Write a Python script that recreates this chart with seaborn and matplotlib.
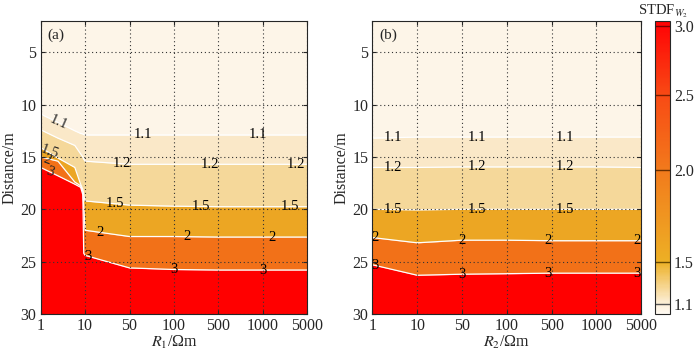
import numpy as np
import matplotlib as mpl
import matplotlib.pyplot as plt
import matplotlib.colors as mcolors
from matplotlib.cm import ScalarMappable
import seaborn as sns

# ---- data ----
r_labels = ["1", "10", "50", "100", "500", "1000", "5000"]
levels = [1.1, 1.2, 1.5, 2, 3]
level_text = ["1.1", "1.2", "1.5", "2", "3"]
band_colors = ["#FDF5E8", "#FAE8C8", "#F5D89A", "#ECA623", "#F27118", "#FF0000"]

# panel (a): depth (m) where STDF crosses each level, along R1 (category index)
xa = [0, 0.39, 0.77, 0.9, 0.95, 0.97, 1.0, 2, 3, 4, 5, 6]
da_11 = [10.9, 11.7, 12.5, 12.75, 12.8, 12.85, 12.9, 12.9, 12.9, 12.9, 12.9, 12.9]
da_12 = [12.4, 13.2, 13.9, 14.7, 15.0, 15.2, 15.4, 15.7, 15.7, 15.7, 15.7, 15.7]
da_15 = [14.1, 15.1, 16.0, 17.6, 18.1, 18.6, 19.2, 19.6, 19.7, 19.75, 19.75, 19.75]
da_2 = [15.0, 15.4, 17.4, 17.75, 18.3, 19.6, 22.0, 22.6, 22.6, 22.65, 22.65, 22.65]
da_3 = [16.0, 16.8, 17.6, 17.9, 18.6, 24.2, 24.4, 25.6, 25.75, 25.8, 25.8, 25.8]

# panel (b): same along R2
xb = [0, 1, 2, 3, 4, 5, 6]
db_11 = [13.2, 13.1, 13.1, 13.1, 13.1, 13.1, 13.1]
db_12 = [16.0, 16.0, 15.95, 15.95, 15.95, 15.95, 16.0]
db_15 = [20.0, 20.05, 20.0, 20.0, 20.0, 20.0, 20.0]
db_2 = [22.7, 23.2, 22.95, 22.95, 23.0, 23.0, 23.0]
db_3 = [25.3, 26.3, 26.2, 26.15, 26.1, 26.1, 26.1]

# where the contour labels sit (category index along each line)
lab_a = {"1.1": [2.3, 4.9], "1.2": [1.84, 3.8, 5.75], "1.5": [1.67, 3.6, 5.6],
         "2": [1.34, 3.3, 5.2], "3": [1.07, 3.0, 5.0]}
lab_b = {"1.1": [0.45, 2.34, 4.3], "1.2": [0.45, 2.34, 4.3], "1.5": [0.45, 2.34, 4.3],
         "2": [0.05, 2.0, 3.92, 5.9], "3": [0.05, 2.0, 3.92, 5.9]}

# colorbar: value -> fraction of bar height (bar is non-linear in the reference)
cb_vals = [1.0, 1.1, 1.5, 2.0, 2.5, 3.0, 3.03]
cb_frac = [0.0, 0.034, 0.177, 0.491, 0.747, 0.983, 1.0]

sns.set_style("ticks")
plt.rcParams['font.family'] = ['Liberation Serif', 'DejaVu Serif']
plt.rcParams['mathtext.fontset'] = 'stix'
plt.rcParams['axes.linewidth'] = 0.8

fig = plt.figure(figsize=(7, 3.54), dpi=100)
ax_a = fig.add_axes([0.058, 0.113, 0.381, 0.828])
ax_b = fig.add_axes([0.532, 0.113, 0.384, 0.828])
cax = fig.add_axes([0.936, 0.113, 0.021, 0.828])


def draw_panel(ax, x, bounds, labels, tag, xlabel):
    x = np.asarray(x)
    edges = [np.full(len(x), 2.0)] + [np.asarray(b) for b in bounds] + [np.full(len(x), 30.0)]
    for i, c in enumerate(band_colors):
        ax.fill_between(x, edges[i], edges[i + 1], color=c, lw=0, zorder=1)
    for b in bounds:
        sns.lineplot(x=x, y=b, ax=ax, color="white", lw=0.9, sort=False,
                     estimator=None, zorder=2)
    for t, b in zip(level_text, bounds):
        for xp in labels.get(t, []):
            ax.text(xp, np.interp(xp, x, b), t, ha="center", va="center",
                    fontsize=10.5, color="k", zorder=4)
    ax.set_xlim(0, 6)
    ax.set_ylim(30, 2)
    ax.set_xticks(range(len(r_labels)))
    ax.set_xticklabels(r_labels)
    ax.set_yticks([5, 10, 15, 20, 25, 30])
    ax.tick_params(direction="in", length=3, top=True, right=True, labelsize=11.5,
                   width=0.8, pad=3)
    ax.grid(True, ls=(0, (1, 2.5)), color="#333333", lw=0.8)
    ax.set_axisbelow(False)
    for sp in ax.spines.values():
        sp.set_zorder(5)
    ax.set_ylabel("Distance/m", fontsize=11.5, labelpad=2)
    ax.set_xlabel(xlabel, fontsize=11.5, labelpad=0)
    ax.text(0.025, 0.975, tag, transform=ax.transAxes, ha="left", va="top", fontsize=11,
            zorder=6)


draw_panel(ax_a, xa, [da_11, da_12, da_15, da_2, da_3], lab_a, "(a)", r"$R_1$/Ωm")
draw_panel(ax_b, xb, [db_11, db_12, db_15, db_2, db_3], lab_b, "(b)", r"$R_2$/Ωm")

# labels on the steep left part of panel (a)
ax_a.text(0.4, 11.75, "1.1", rotation=-24, ha="center", va="center", fontsize=10.5, zorder=4)
ax_a.text(0.2, 14.55, "1.5", rotation=-20, ha="center", va="center", fontsize=10.5, zorder=4)
ax_a.text(0.14, 15.3, "2", rotation=-20, ha="center", va="center", fontsize=10.5, zorder=4)
ax_a.text(0.22, 16.45, "3", rotation=-20, ha="center", va="center", fontsize=10.5, zorder=4)

# colorbar
fwd = lambda v: np.interp(v, cb_vals, cb_frac)
inv = lambda p: np.interp(p, cb_frac, cb_vals)
norm = mcolors.FuncNorm((fwd, inv), vmin=cb_vals[0], vmax=cb_vals[-1])
cmap = mcolors.LinearSegmentedColormap.from_list(
    "stdf", [(0.0, "#FFFAF2"), (0.034, "#FCEFD9"), (0.177, "#EDB025"),
             (0.491, "#F27A1C"), (0.747, "#F84A14"), (0.983, "#FF0606"), (1.0, "#FF0000")])
cb = fig.colorbar(ScalarMappable(norm=norm, cmap=cmap), cax=cax,
                  ticks=[1.1, 1.5, 2.0, 2.5, 3.0])
cb.ax.set_yticklabels(["1.1", "1.5", "2.0", "2.5", "3.0"])
cb.ax.tick_params(direction="in", length=0, labelsize=11.5, pad=3)
cb.outline.set_linewidth(0.8)
for v, c in zip([1.1, 1.5, 2.0, 2.5, 3.0],
                ["#555555", "#6B4A00", "#6B3000", "#7A1E00", "#7A0000"]):
    cax.axhline(v, color=c, lw=1.0)
fig.text(0.947, 1 - 14 / 354, r"STDF$_{W_2}$", ha="center", va="baseline", fontsize=10.5)

fig.savefig("out.png", dpi=100)
